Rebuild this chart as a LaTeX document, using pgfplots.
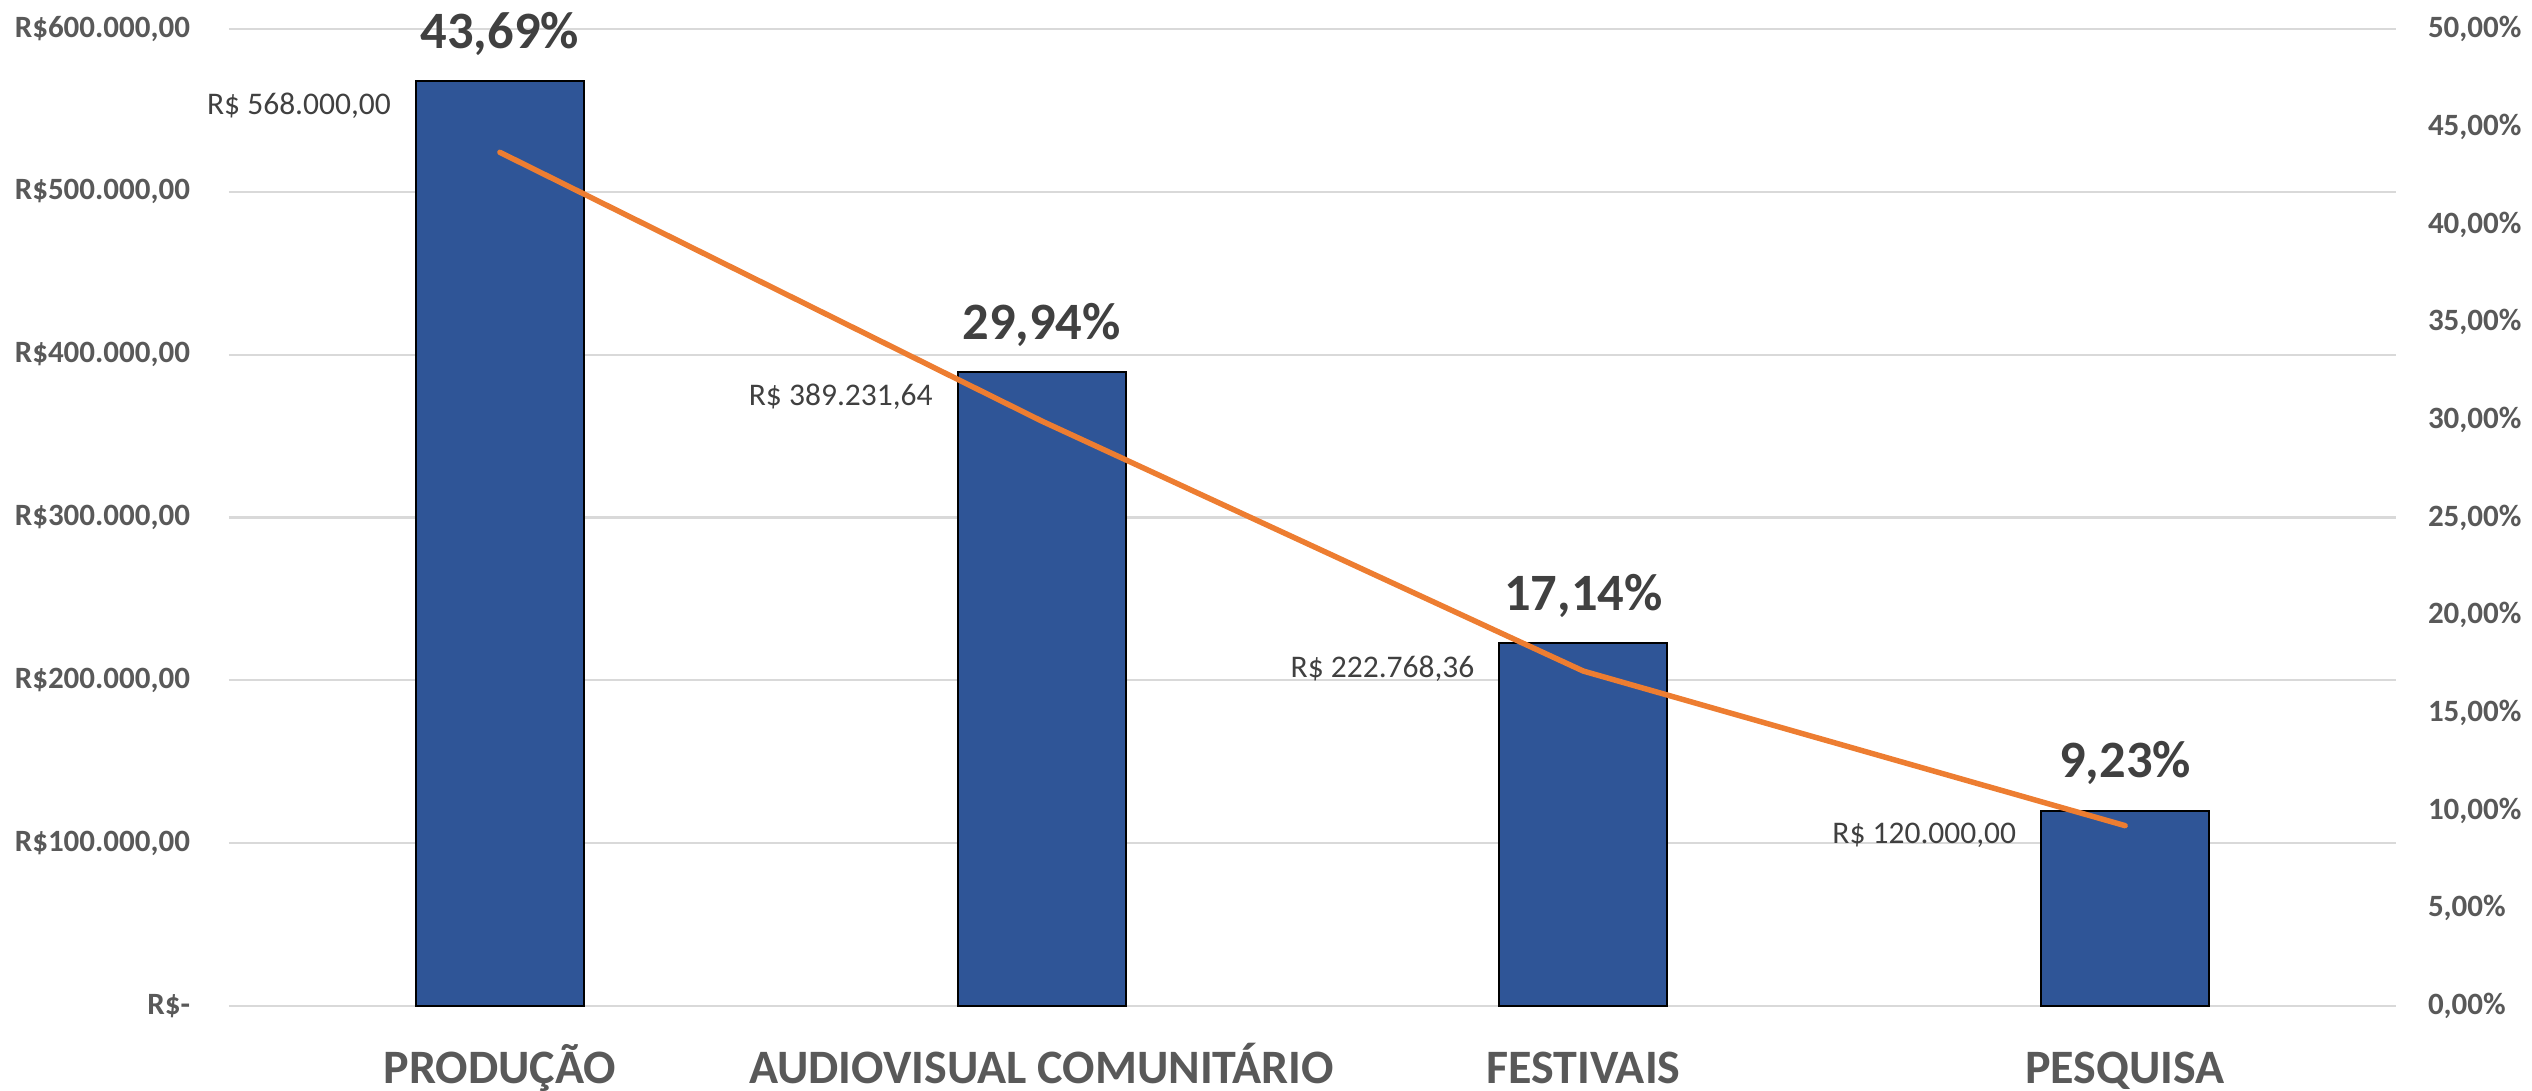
\documentclass[border=0pt]{standalone}
\usepackage{fontspec}
\setmainfont{Carlito}
\usepackage{pgfplots}
\pgfplotsset{compat=1.18}
\definecolor{barblue}{HTML}{2F5597}
\definecolor{lineorange}{HTML}{ED7D31}
\definecolor{tickgray}{HTML}{595959}
\definecolor{labgray}{HTML}{404040}
\definecolor{gridgray}{HTML}{D9D9D9}
\begin{document}
\begin{tikzpicture}
\pgfplotsset{
 common/.style={scale only axis, width=433.4pt, height=195.4pt,
   xmin=-0.5, xmax=3.5, axis line style={draw=none}, major tick length=0pt,
   /pgf/number format/assume math mode=true, clip=false, scaled y ticks=false},
}
\begin{axis}[common,
 ymin=0, ymax=600000,
 ytick={0,100000,200000,300000,400000,500000,600000},
 yticklabels={{R\$-},{R\$100.000,00},{R\$200.000,00},{R\$300.000,00},{R\$400.000,00},{R\$500.000,00},{R\$600.000,00}},
 ymajorgrids, grid style={gridgray, line width=0.45pt},
 xtick={0,1,2,3},
 xticklabels={PRODUÇÃO, AUDIOVISUAL COMUNITÁRIO, FESTIVAIS, PESQUISA},
 xticklabel style={font=\fontsize{9.6}{11}\selectfont\bfseries, text=tickgray, inner sep=0pt, anchor=base, yshift=-15.4pt},
 yticklabel style={font=\fontsize{6.2}{7}\selectfont\bfseries, text=tickgray, inner sep=0pt, anchor=east, xshift=-7.6pt},
 ybar, bar width=0.31,
]
\addplot[fill=barblue, draw=black, line width=0.4pt, bar shift=0pt,
  nodes near coords, point meta=explicit symbolic,
  nodes near coords style={font=\fontsize{10.5}{12}\selectfont\bfseries, text=labgray, anchor=center, yshift=9.5pt}]
  coordinates {(0,568000) [43,69\%] (1,389231.64) [29,94\%] (2,222768.36) [17,14\%] (3,120000) [9,23\%]};
\addplot[draw=none, fill=none, bar shift=0pt, forget plot,
  nodes near coords, point meta=explicit symbolic,
  nodes near coords style={font=\fontsize{6.3}{7.5}\selectfont, text=labgray, anchor=east, inner sep=0pt, xshift=-21.6pt, yshift=-5pt}]
  coordinates {(0,568000) [R\$ 568.000,00] (1,389231.64) [R\$ 389.231,64] (2,222768.36) [R\$ 222.768,36] (3,120000) [R\$ 120.000,00]};
\end{axis}
\begin{axis}[common, axis y line*=right, axis x line=none,
 ymin=0, ymax=0.5,
 ytick={0,0.05,0.1,0.15,0.2,0.25,0.3,0.35,0.4,0.45,0.5},
 yticklabels={{0,00\%},{5,00\%},{10,00\%},{15,00\%},{20,00\%},{25,00\%},{30,00\%},{35,00\%},{40,00\%},{45,00\%},{50,00\%}},
 yticklabel style={font=\fontsize{6.2}{7}\selectfont\bfseries, text=tickgray, inner sep=0pt, anchor=west, xshift=6.2pt},
]
\addplot[lineorange, line width=1.1pt, mark=none, line cap=round, line join=round]
  coordinates {(0,0.4369) (1,0.2994) (2,0.1714) (3,0.0923)};
\end{axis}
\pgfresetboundingbox
\path[use as bounding box] (-45.8pt,-16.8pt) rectangle (460.6pt,201.2pt);
\end{tikzpicture}
\end{document}
